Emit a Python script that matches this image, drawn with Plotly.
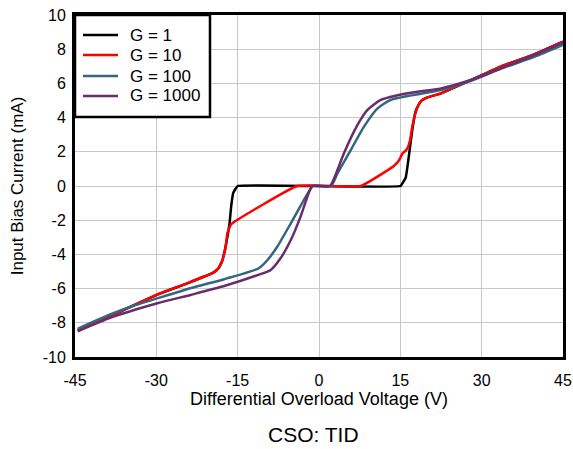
import plotly.graph_objects as go

# ---- data ----
v_g1 = [-44.5, -38.4, -34.1, -29.2, -24.3, -19.4, -18.5, -17.8, -17.3, -16.9, -16.5, -16.2, -15.8, -15.0,
        15.0, 16.0, 16.4, 16.8, 17.2, 17.8, 18.2, 18.9, 20.0, 22.5, 27.4, 33.5, 39.7, 45.0]
i_g1 = [-8.45, -7.6, -6.96, -6.27, -5.69, -5.05, -4.8, -4.33, -3.65, -3.0, -2.2, -1.2, -0.39, 0.0,
        0.0, 0.5, 1.33, 2.3, 3.27, 4.35, 4.64, 4.99, 5.18, 5.42, 6.1, 6.98, 7.7, 8.44]

v_g10 = [-44.5, -38.4, -34.1, -29.2, -24.3, -19.4, -18.5, -17.8, -17.2, -16.9, -16.3, -15.4, -4.0,
         7.7, 13.8, 14.8, 15.4, 16.0, 16.4, 16.8, 17.2, 17.7, 18.2, 18.9, 20.0, 22.5, 27.4, 33.5, 39.7, 45.0]
i_g10 = [-8.45, -7.6, -6.96, -6.27, -5.69, -5.05, -4.8, -4.33, -3.55, -2.77, -2.28, -2.05, 0.0,
         0.0, 1.17, 1.52, 1.91, 2.07, 2.26, 2.69, 3.47, 4.15, 4.64, 4.99, 5.18, 5.42, 6.1, 6.98, 7.7, 8.44]

v_g100 = [-44.5, -38.4, -34.7, -29.2, -23.4, -17.5, -11.1, -9.5, -7.7, -5.2, -2.8, -1.5, -1.2,
          2.2, 3.4, 5.85, 8.3, 10.8, 13.2, 16.3, 22.5, 28.0, 33.5, 39.7, 45.0]
i_g100 = [-8.35, -7.5, -7.06, -6.51, -5.95, -5.45, -4.81, -4.33, -3.55, -2.18, -0.82, -0.14, 0.0,
          0.0, 0.74, 2.1, 3.47, 4.54, 5.03, 5.26, 5.61, 6.15, 6.85, 7.55, 8.25]

v_g1000 = [-44.5, -38.4, -29.8, -23.7, -17.5, -10.8, -8.9, -7.1, -5.2, -3.4, -1.8, -1.2,
           2.0, 2.8, 4.6, 7.1, 8.9, 11.4, 16.3, 22.5, 28.0, 33.5, 39.7, 45.0]
i_g1000 = [-8.5, -7.7, -6.86, -6.37, -5.85, -5.15, -4.91, -4.23, -3.16, -1.79, -0.33, 0.0,
           0.0, 0.45, 1.91, 3.57, 4.44, 5.03, 5.42, 5.71, 6.2, 6.88, 7.66, 8.38]

series_names = ["G = 1", "G = 10", "G = 100", "G = 1000"]
series_colors = ["#000000", "#ff0000", "#33677f", "#6a2d6c"]
series_smooth = [0.25, 0.35, 0.6, 0.6]

x_ticks = [-45, -30, -15, 0, 15, 30, 45]
x_ticktext = ["-45", "-30", "-15", "0", "15", "30", "45"]
y_ticks = [-10, -8, -6, -4, -2, 0, 2, 4, 6, 8, 10]
y_ticktext = ["-10", "-8", "-6", "-4", "-2", "0", "2", "4", "6", "8", "10"]

FONT = "Liberation Sans, Arial, sans-serif"

fig = go.Figure()
data_pairs = [(v_g1, i_g1), (v_g10, i_g10), (v_g100, i_g100), (v_g1000, i_g1000)]
for (vx, iy), name, col, sm in zip(data_pairs, series_names, series_colors, series_smooth):
    fig.add_trace(go.Scatter(x=vx, y=iy, mode="lines", name=name, showlegend=False,
                             line=dict(color=col, width=2.5, shape="spline", smoothing=sm)))

# ---- manual legend (box, samples, labels) in paper coordinates ----
shapes = [dict(type="rect", xref="paper", yref="paper", x0=0, x1=0.2766, y0=0.7018, y1=1,
               line=dict(color="black", width=2.5), fillcolor="white", layer="above")]
annotations = []
leg_y = [0.9415, 0.883, 0.8216, 0.7632]
for name, col, ly in zip(series_names, series_colors, leg_y):
    shapes.append(dict(type="line", xref="paper", yref="paper", x0=0.0164, x1=0.0881, y0=ly, y1=ly,
                       line=dict(color=col, width=2.5), layer="above"))
    annotations.append(dict(text=name, xref="paper", yref="paper", x=0.1086, y=ly,
                            xanchor="left", yanchor="middle", showarrow=False,
                            font=dict(size=17, family=FONT, color="black")))

annotations.append(dict(text="CSO: TID", xref="paper", yref="paper", x=0.488, y=-0.228,
                        xanchor="center", yanchor="middle", showarrow=False,
                        font=dict(size=21, family=FONT, color="black")))

fig.update_layout(
    width=573, height=449,
    margin=dict(l=75, r=10, t=15, b=92),
    paper_bgcolor="white", plot_bgcolor="white",
    font=dict(family=FONT, color="black", size=16),
    showlegend=False,
    shapes=shapes,
    annotations=annotations,
)
fig.update_xaxes(range=[-45, 45], tickvals=x_ticks, ticktext=x_ticktext, automargin=False,
                 showgrid=True, gridcolor="#c8c8c8", gridwidth=1,
                 showline=True, linecolor="black", linewidth=3, mirror=True,
                 zeroline=False, ticks="", tickfont=dict(size=16), ticklabelstandoff=7,
                 title=dict(text="Differential Overload Voltage (V)", font=dict(size=18), standoff=4))
fig.update_yaxes(range=[-10, 10], tickvals=y_ticks, ticktext=y_ticktext, automargin=False,
                 showgrid=True, gridcolor="#c8c8c8", gridwidth=1,
                 showline=True, linecolor="black", linewidth=3, mirror=True,
                 zeroline=False, ticks="", tickfont=dict(size=16), ticklabelstandoff=3,
                 title=dict(text="Input Bias Current (mA)", font=dict(size=17), standoff=15))

fig.write_html("out.html")
